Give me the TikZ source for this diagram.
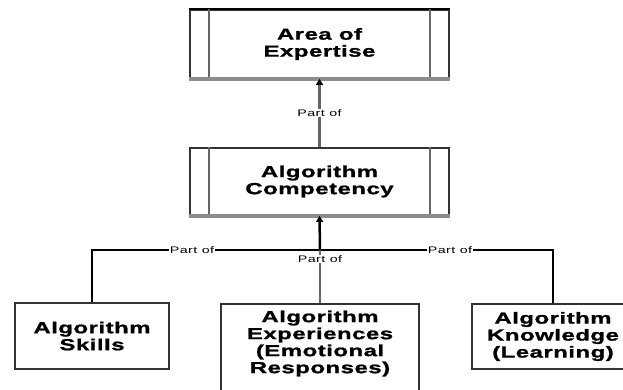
\documentclass[tikz,border=0pt]{standalone}
\usepackage{fontspec}
\setmainfont{Liberation Sans}[FakeStretch=1.5,LetterSpace=5]
\newfontfamily\boxfont{Liberation Sans Bold}[FakeStretch=1.5,LetterSpace=3,FakeBold=1.2]
\usetikzlibrary{positioning,arrows.meta}

\definecolor{edgegray}{HTML}{333333}
\definecolor{linegray}{HTML}{666666}
\definecolor{shadegray}{HTML}{8C8C8C}

\begin{document}
\begin{tikzpicture}[x=1pt,y=-1pt,
    box/.style={draw=edgegray,line width=1.8pt,fill=white,inner sep=0pt,align=center,
      font=\boxfont\fontsize{16}{17}\selectfont},
    partof/.style={fill=white,inner sep=1pt,font=\fontsize{9.5}{10}\selectfont},
    link/.style={line width=2.5pt,draw=edgegray},
    tip/.style={-{Triangle[length=6pt,width=7pt,color=black]}}
  ]
  \useasboundingbox (0,0) rectangle (623,389);
  \clip (0,0) rectangle (623,389);

  % Upper boxes
  \node[box,minimum width=259pt,minimum height=68pt] (expertise) at (319.5,44) {Area of\\Expertise};
  \node[box,minimum width=259pt,minimum height=67pt] (competency) at (319.5,181.5) {Algorithm\\Competency};

  \draw[black,line width=2.5pt] (expertise.north west) -- (expertise.north east);
  \foreach \b in {expertise,competency} {
    \draw[linegray,line width=1.8pt] ([xshift=20pt]\b.north west) -- ([xshift=20pt]\b.south west);
    \draw[linegray,line width=1.8pt] ([xshift=-20pt]\b.north east) -- ([xshift=-20pt]\b.south east);
    \draw[shadegray,line width=3.5pt] (\b.south west) -- (\b.south east);
  }

  % Lower boxes
  \node[box,minimum width=154pt,minimum height=66pt] (skills) at (92,336) {Algorithm\\Skills};
  \node[box,minimum width=198pt,minimum height=110pt,anchor=north] (experiences) at (320,303) {};
  \node[align=center,font=\boxfont\fontsize{16}{17}\selectfont] (experiencestext) at (320,343.5)
    {Algorithm\\Experiences\\(Emotional\\Responses)};
  \node[box,minimum width=162pt,minimum height=65pt] (knowledge) at (553,336.5) {Algorithm\\Knowledge\\(Learning)};

  % Connectors
  \coordinate (junction) at (320,250);
  \draw[link,draw=linegray,tip] (competency.north) -- (expertise.south)
    node[partof,midway] (lblarea) {Part of};
  \draw[link,black] (skills.north) |- (junction);
  \draw[link,black] (knowledge.north) |- (junction);
  \draw[link,draw=linegray] (experiences.north) -- (junction);
  \draw[link,black,tip] (junction) -- (competency.south);

  \node[partof] (lblskills) at (192,250) {Part of};
  \node[partof] (lblexperiences) at (320,259) {Part of};
  \node[partof] (lblknowledge) at (450,250) {Part of};
\end{tikzpicture}
\end{document}
